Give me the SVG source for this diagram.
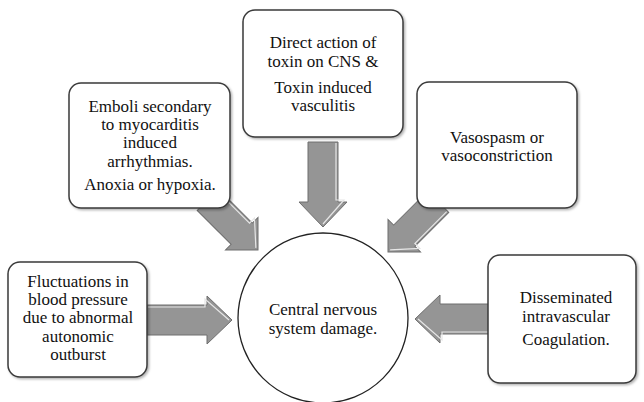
<svg xmlns="http://www.w3.org/2000/svg" width="644" height="402" viewBox="0 0 644 402">
<style>
.box{fill:#fff;stroke:#3a3a3a;stroke-width:1.5}
.arr{fill:#959595;stroke:#6f6f6f;stroke-width:1}
.hl{fill:none;stroke:#e6e6e6;stroke-width:1.2}
text{font-family:'Liberation Serif','DejaVu Serif',serif;font-size:17px;fill:#111;text-anchor:middle}
</style>
<defs>
<filter id="sh" x="-10%" y="-10%" width="120%" height="120%">
<feDropShadow dx="1.5" dy="1.5" stdDeviation="1.2" flood-color="#000" flood-opacity="0.3"/>
</filter>
<polygon id="a70" points="-71,-15 -23,-15 -23,-23 0,0 -23,23 -23,15 -71,15"/>
<polygon id="a85" points="-85,-15 -25,-15 -25,-24 0,0 -25,24 -25,15 -85,15"/>
</defs>
<rect width="644" height="402" fill="#fff"/>
<g id="connectors">
<g transform="translate(232,320)"><use href="#a85" class="arr"/><polyline class="hl" points="-84,-13 -27,-13 -27,-21 -3,0"/></g>
<g transform="translate(415,319) rotate(180)"><use href="#a85" class="arr"/><polyline class="hl" points="-84,-13 -27,-13 -27,-21 -3,0"/></g>
<g transform="translate(323,227) rotate(90)"><use href="#a85" class="arr"/><polyline class="hl" points="-84,-13 -27,-13 -27,-21 -3,0"/></g>
<g transform="translate(258,250) rotate(45)"><use href="#a70" class="arr"/><polyline class="hl" points="-70,-13 -25,-13 -25,-20 -3,0"/></g>
<g transform="translate(388,252) rotate(135)"><use href="#a70" class="arr"/><polyline class="hl" points="-70,-13 -25,-13 -25,-20 -3,0"/></g>
</g>
<g id="n-center">
<circle cx="323" cy="318" r="85" fill="#fff" stroke="#222" stroke-width="1.3"/>
<text x="323" y="315">Central nervous</text>
<text x="323" y="334">system damage.</text>
</g>
<g id="n-fluct">
<rect class="box" filter="url(#sh)" x="8" y="262" width="139" height="115" rx="12"/>
<text x="78" y="287">Fluctuations in</text>
<text x="78" y="305">blood pressure</text>
<text x="78" y="323">due to abnormal</text>
<text x="78" y="342">autonomic</text>
<text x="78" y="360">outburst</text>
</g>
<g id="n-emboli">
<rect class="box" filter="url(#sh)" x="69" y="83" width="161" height="125" rx="12"/>
<text x="150" y="112">Emboli secondary</text>
<text x="150" y="130">to myocarditis</text>
<text x="150" y="148">induced</text>
<text x="150" y="167">arrhythmias.</text>
<text x="150" y="190">Anoxia or hypoxia.</text>
</g>
<g id="n-direct">
<rect class="box" filter="url(#sh)" x="243" y="10" width="160" height="127" rx="12"/>
<text x="323" y="48">Direct action of</text>
<text x="323" y="67">toxin on CNS &amp;</text>
<text x="323" y="93">Toxin induced</text>
<text x="323" y="111">vasculitis</text>
</g>
<g id="n-vaso">
<rect class="box" filter="url(#sh)" x="417" y="82" width="160" height="126" rx="12"/>
<text x="497" y="143">Vasospasm or</text>
<text x="497" y="161">vasoconstriction</text>
</g>
<g id="n-dic">
<rect class="box" filter="url(#sh)" x="488" y="255" width="148" height="128" rx="12"/>
<text x="566" y="303">Disseminated</text>
<text x="566" y="322">intravascular</text>
<text x="566" y="345">Coagulation.</text>
</g>
</svg>
